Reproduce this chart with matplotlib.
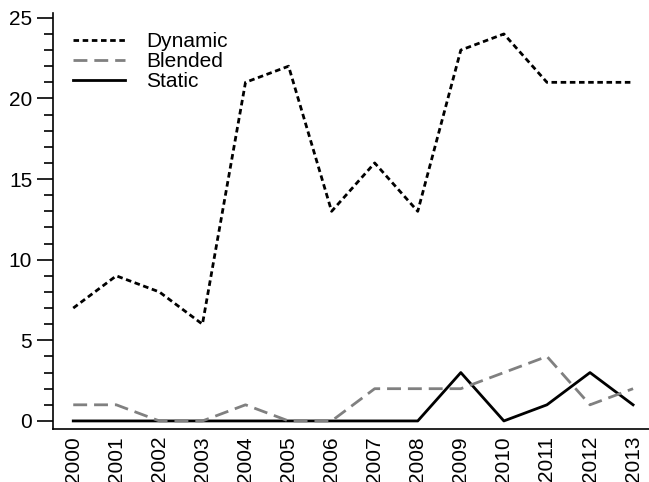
import matplotlib
matplotlib.use("Agg")
import matplotlib.pyplot as plt
from matplotlib.ticker import MultipleLocator

plt.rcParams['font.family'] = ['Liberation Sans', 'DejaVu Sans']

years = list(range(2000, 2014))
dynamic = [7, 9, 8, 6, 21, 22, 13, 16, 13, 23, 24, 21, 21, 21]
blended = [1, 1, 0, 0, 1, 0, 0, 2, 2, 2, 3, 4, 1, 2]
static = [0, 0, 0, 0, 0, 0, 0, 0, 0, 3, 0, 1, 3, 1]

fig = plt.figure(figsize=(6.49, 4.82), dpi=100)
ax = fig.add_axes([53/649, 1 - 429/482, 1 - 53/649, (429 - 13)/482])

ax.plot(years, static, color='black', lw=2.0, zorder=2, label='Static')
ax.plot(years, blended, color='#808080', lw=2.0, dashes=(5, 2.5), zorder=3, label='Blended')
ax.plot(years, dynamic, color='black', lw=2.0, dashes=(2, 1.3), zorder=4, label='Dynamic')

ax.set_xlim(1999.53, 2013.37)
ax.set_ylim(-0.5, 25.3)
ax.set_xticks(years)
ax.set_xticklabels([str(y) for y in years], rotation=90)
ax.yaxis.set_major_locator(MultipleLocator(5))
ax.yaxis.set_minor_locator(MultipleLocator(1))
ax.tick_params(axis='y', which='major', length=11.5, width=1.2, labelsize=15, pad=3.5)
ax.tick_params(axis='y', which='minor', length=6.5, width=1.2)
ax.tick_params(axis='x', which='major', length=0, labelsize=15, pad=5)

for s in ['top', 'right']:
    ax.spines[s].set_visible(False)
for s in ['left', 'bottom']:
    ax.spines[s].set_linewidth(1.2)

handles, labels = ax.get_legend_handles_labels()
order = [2, 1, 0]
ax.legend([handles[i] for i in order], [labels[i] for i in order],
          loc='upper left', bbox_to_anchor=(20/596, 1 - 19/416), frameon=False,
          fontsize=15, handlelength=2.5, handletextpad=1.0, labelspacing=0.05,
          borderpad=0, borderaxespad=0)

fig.savefig('out.png', dpi=100)
